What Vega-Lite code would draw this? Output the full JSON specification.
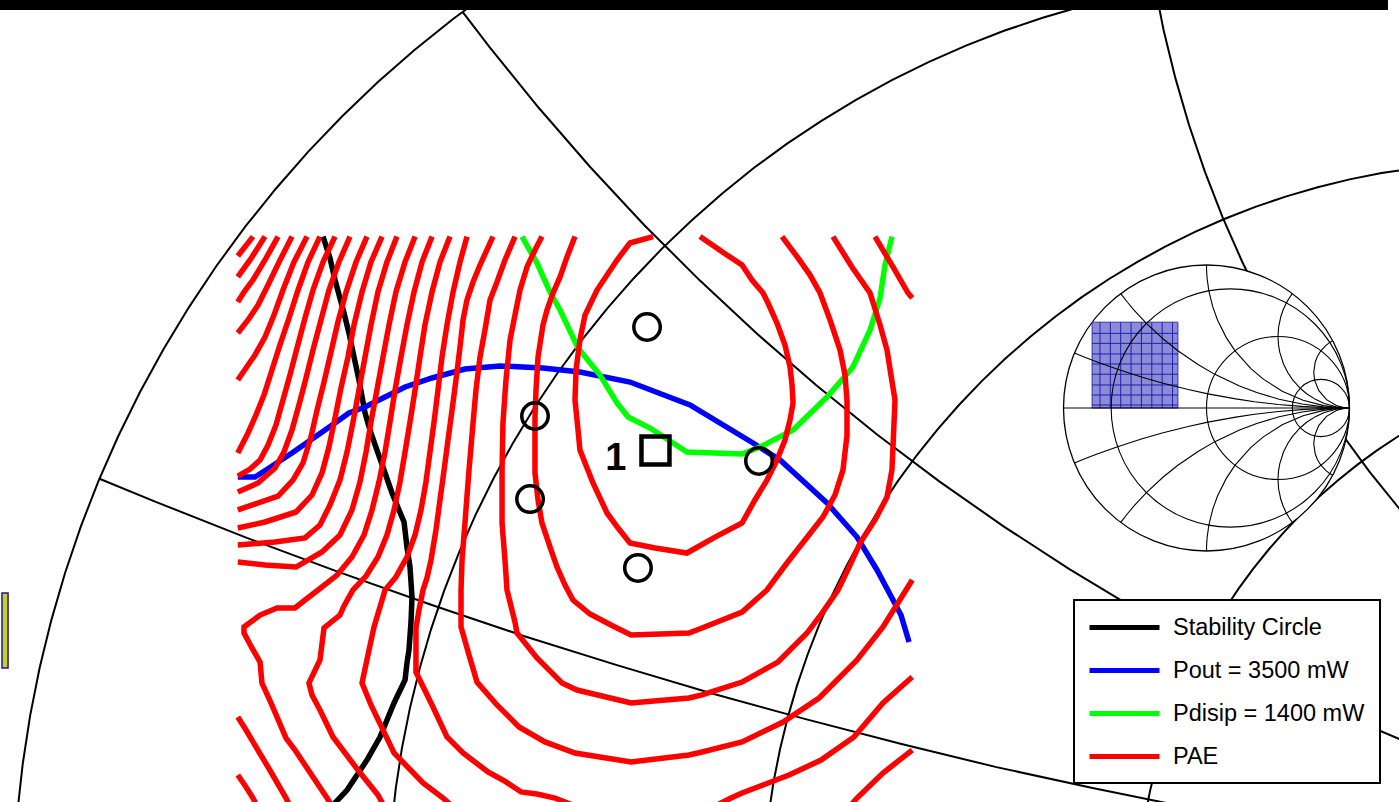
{
  "$schema": "https://vega.github.io/schema/vega-lite/v6.json",
  "width": 1399,
  "height": 802,
  "padding": 0,
  "autosize": {"type": "none"},
  "background": "white",
  "config": {"view": {"stroke": null}},
  "datasets": {
    "grid": [
      {"k":"A","r":-0.5736,"i":0.8192},{"k":"A","r":-0.6088,"i":0.7934},{"k":"A","r":-0.6428,"i":0.766},{"k":"A","r":-0.6756,"i":0.7373},{"k":"A","r":-0.7071,"i":0.7071},{"k":"A","r":-0.7373,"i":0.6756},{"k":"A","r":-0.766,"i":0.6428},{"k":"A","r":-0.7934,"i":0.6088},{"k":"A","r":-0.8192,"i":0.5736},{"k":"A","r":-0.8434,"i":0.5373},{"k":"A","r":-0.866,"i":0.5},{"k":"A","r":-0.887,"i":0.4617},{"k":"A","r":-0.9063,"i":0.4226},{"k":"A","r":-0.9239,"i":0.3827},{"k":"A","r":-0.9397,"i":0.342},{"k":"A","r":-0.9537,"i":0.3007},{"k":"A","r":-0.9659,"i":0.2588},{"k":"A","r":-0.9763,"i":0.2164},{"k":"A","r":-0.9848,"i":0.1736},{"k":"A","r":-0.9914,"i":0.1305},{"k":"A","r":-0.9962,"i":0.0872},
      {"k":"B","r":0.022,"i":0.8207},{"k":"B","r":-0.0137,"i":0.8136},{"k":"B","r":-0.049,"i":0.8049},{"k":"B","r":-0.0839,"i":0.7947},{"k":"B","r":-0.1183,"i":0.7831},{"k":"B","r":-0.1522,"i":0.7699},{"k":"B","r":-0.1855,"i":0.7553},{"k":"B","r":-0.2181,"i":0.7392},{"k":"B","r":-0.25,"i":0.7217},{"k":"B","r":-0.2811,"i":0.7028},{"k":"B","r":-0.3113,"i":0.6827},{"k":"B","r":-0.3407,"i":0.6612},{"k":"B","r":-0.369,"i":0.6383},{"k":"B","r":-0.3963,"i":0.6144},{"k":"B","r":-0.4226,"i":0.5893},{"k":"B","r":-0.4477,"i":0.563},{"k":"B","r":-0.4716,"i":0.5357},{"k":"B","r":-0.4945,"i":0.5073},{"k":"B","r":-0.516,"i":0.478},{"k":"B","r":-0.5362,"i":0.4478},{"k":"B","r":-0.555,"i":0.4167},{"k":"B","r":-0.5725,"i":0.3848},{"k":"B","r":-0.5886,"i":0.3522},{"k":"B","r":-0.6032,"i":0.3189},{"k":"B","r":-0.6164,"i":0.285},{"k":"B","r":-0.6281,"i":0.2506},{"k":"B","r":-0.6382,"i":0.2157},{"k":"B","r":-0.6469,"i":0.1803},{"k":"B","r":-0.654,"i":0.1447},{"k":"B","r":-0.6595,"i":0.1088},{"k":"B","r":-0.6635,"i":0.0727},
      {"k":"C","r":0.0086,"i":0.8695},{"k":"C","r":0.0152,"i":0.8264},{"k":"C","r":0.0237,"i":0.7836},{"k":"C","r":0.0341,"i":0.7412},{"k":"C","r":0.0463,"i":0.6993},{"k":"C","r":0.0603,"i":0.658},{"k":"C","r":0.0761,"i":0.6173},{"k":"C","r":0.0937,"i":0.5774},{"k":"C","r":0.113,"i":0.5383},{"k":"C","r":0.134,"i":0.5},{"k":"C","r":0.1566,"i":0.4627},{"k":"C","r":0.1808,"i":0.4264},{"k":"C","r":0.2066,"i":0.3912},{"k":"C","r":0.234,"i":0.3572},{"k":"C","r":0.2627,"i":0.3244},
      {"k":"D","r":0.2463,"i":0.6609},{"k":"D","r":0.2176,"i":0.6565},{"k":"D","r":0.1891,"i":0.6509},{"k":"D","r":0.1608,"i":0.6439},{"k":"D","r":0.1329,"i":0.6358},{"k":"D","r":0.1053,"i":0.6265},{"k":"D","r":0.0782,"i":0.6159},{"k":"D","r":0.0516,"i":0.6042},{"k":"D","r":0.0255,"i":0.5913},{"k":"D","r":0.0,"i":0.5773},{"k":"D","r":-0.0249,"i":0.5623},{"k":"D","r":-0.0491,"i":0.5461},{"k":"D","r":-0.0725,"i":0.5289},{"k":"D","r":-0.0952,"i":0.5107},{"k":"D","r":-0.1171,"i":0.4915},{"k":"D","r":-0.1381,"i":0.4714},{"k":"D","r":-0.1582,"i":0.4504},{"k":"D","r":-0.1774,"i":0.4285},{"k":"D","r":-0.1956,"i":0.4059},{"k":"D","r":-0.2128,"i":0.3824},{"k":"D","r":-0.2289,"i":0.3582},{"k":"D","r":-0.244,"i":0.3333},{"k":"D","r":-0.258,"i":0.3078},{"k":"D","r":-0.2709,"i":0.2817},{"k":"D","r":-0.2826,"i":0.2551},{"k":"D","r":-0.2931,"i":0.228},{"k":"D","r":-0.3025,"i":0.2005},{"k":"D","r":-0.3106,"i":0.1725},{"k":"D","r":-0.3175,"i":0.1443},{"k":"D","r":-0.3232,"i":0.1157},{"k":"D","r":-0.3276,"i":0.087},
      {"k":"E","r":0.25,"i":0.433},{"k":"E","r":0.2314,"i":0.4217},{"k":"E","r":0.2132,"i":0.4096},{"k":"E","r":0.1956,"i":0.3967},{"k":"E","r":0.1786,"i":0.383},{"k":"E","r":0.1622,"i":0.3687},{"k":"E","r":0.1464,"i":0.3536},{"k":"E","r":0.1314,"i":0.3378},{"k":"E","r":0.117,"i":0.3214},{"k":"E","r":0.1033,"i":0.3044},{"k":"E","r":0.0904,"i":0.2868},{"k":"E","r":0.0783,"i":0.2687},{"k":"E","r":0.067,"i":0.25},{"k":"E","r":0.0565,"i":0.2309},{"k":"E","r":0.0469,"i":0.2113},{"k":"E","r":0.0381,"i":0.1914},{"k":"E","r":0.0302,"i":0.171},{"k":"E","r":0.0232,"i":0.1504},{"k":"E","r":0.0171,"i":0.1294},{"k":"E","r":0.0119,"i":0.1082},{"k":"E","r":0.0076,"i":0.0868},
      {"k":"L1","r":-0.6,"i":0.8},{"k":"L1","r":-0.576,"i":0.7686},{"k":"L1","r":-0.5321,"i":0.7144},{"k":"L1","r":-0.4863,"i":0.6617},{"k":"L1","r":-0.4387,"i":0.6106},{"k":"L1","r":-0.3893,"i":0.5613},{"k":"L1","r":-0.3383,"i":0.5138},{"k":"L1","r":-0.2856,"i":0.4679},{"k":"L1","r":-0.2313,"i":0.4239},{"k":"L1","r":-0.1756,"i":0.382},{"k":"L1","r":-0.1184,"i":0.342},{"k":"L1","r":-0.0598,"i":0.304},{"k":"L1","r":0.0,"i":0.2679},{"k":"L1","r":0.061,"i":0.2341},{"k":"L1","r":0.1232,"i":0.2024},{"k":"L1","r":0.1866,"i":0.1729},{"k":"L1","r":0.2508,"i":0.1457},
      {"k":"L2","r":-0.9231,"i":0.3846},{"k":"L2","r":-0.873,"i":0.364},{"k":"L2","r":-0.792,"i":0.332},{"k":"L2","r":-0.71,"i":0.3015},{"k":"L2","r":-0.628,"i":0.2725},{"k":"L2","r":-0.545,"i":0.2445},{"k":"L2","r":-0.462,"i":0.2185},{"k":"L2","r":-0.378,"i":0.1935},{"k":"L2","r":-0.294,"i":0.1705},{"k":"L2","r":-0.2095,"i":0.1485},{"k":"L2","r":-0.125,"i":0.128},{"k":"L2","r":-0.0395,"i":0.1095},{"k":"L2","r":0.046,"i":0.092},{"k":"L2","r":0.132,"i":0.076}
    ],
    "stability": [
      {"r":-0.7242,"i":0.6},{"r":-0.718,"i":0.581},{"r":-0.7135,"i":0.5614},{"r":-0.7055,"i":0.532},{"r":-0.7011,"i":0.5142},{"r":-0.6966,"i":0.4929},{"r":-0.6922,"i":0.4724},{"r":-0.6868,"i":0.4431},{"r":-0.6824,"i":0.4279},{"r":-0.6762,"i":0.4101},{"r":-0.669,"i":0.3897},{"r":-0.6628,"i":0.3719},{"r":-0.6566,"i":0.3568},{"r":-0.6521,"i":0.3461},{"r":-0.6495,"i":0.3238},{"r":-0.6468,"i":0.306},{"r":-0.645,"i":0.2794},{"r":-0.6459,"i":0.2571},{"r":-0.6477,"i":0.2322},{"r":-0.6495,"i":0.2206},{"r":-0.6512,"i":0.2055},{"r":-0.661,"i":0.1851},{"r":-0.6735,"i":0.1548},{"r":-0.6851,"i":0.1343},{"r":-0.7028,"i":0.1076},{"r":-0.7153,"i":0.0943},{"r":-0.7224,"i":0.0881}
    ],
    "pout": [
      {"r":-0.8,"i":0.3861},{"r":-0.7847,"i":0.3861},{"r":-0.7722,"i":0.3941},{"r":-0.7518,"i":0.4075},{"r":-0.7313,"i":0.4217},{"r":-0.7135,"i":0.4342},{"r":-0.7011,"i":0.4431},{"r":-0.6868,"i":0.4484},{"r":-0.669,"i":0.4573},{"r":-0.6512,"i":0.4662},{"r":-0.6272,"i":0.4742},{"r":-0.5979,"i":0.4822},{"r":-0.5667,"i":0.4849},{"r":-0.5285,"i":0.4831},{"r":-0.4956,"i":0.4795},{"r":-0.4511,"i":0.4706},{"r":-0.3977,"i":0.4502},{"r":-0.3416,"i":0.4164},{"r":-0.3176,"i":0.4012},{"r":-0.2758,"i":0.363},{"r":-0.2491,"i":0.3327},{"r":-0.2313,"i":0.3034},{"r":-0.218,"i":0.2785},{"r":-0.21,"i":0.2633},{"r":-0.2028,"i":0.2393}
    ],
    "pdisip": [
      {"r":-0.5472,"i":0.6},{"r":-0.5338,"i":0.5765},{"r":-0.5222,"i":0.5507},{"r":-0.5133,"i":0.5347},{"r":-0.4973,"i":0.5009},{"r":-0.4778,"i":0.4769},{"r":-0.4626,"i":0.452},{"r":-0.4528,"i":0.4395},{"r":-0.4333,"i":0.4297},{"r":-0.4128,"i":0.4164},{"r":-0.4004,"i":0.4084},{"r":-0.3514,"i":0.4066},{"r":-0.3354,"i":0.4128},{"r":-0.306,"i":0.4279},{"r":-0.2758,"i":0.4573},{"r":-0.2527,"i":0.484},{"r":-0.2375,"i":0.5169},{"r":-0.2286,"i":0.5454},{"r":-0.2242,"i":0.5747},{"r":-0.218,"i":0.6}
    ],
    "pae": [
      {"c":"a","r":-0.7865,"i":0.6},{"c":"a","r":-0.8,"i":0.5827},
      {"c":"b","r":-0.7758,"i":0.6},{"c":"b","r":-0.7891,"i":0.5792},{"c":"b","r":-0.8,"i":0.5641},
      {"c":"c","r":-0.7642,"i":0.6},{"c":"c","r":-0.7758,"i":0.5792},{"c":"c","r":-0.7865,"i":0.5614},{"c":"c","r":-0.7945,"i":0.5507},{"c":"c","r":-0.8,"i":0.5418},
      {"c":"d","r":-0.7518,"i":0.6},{"c":"d","r":-0.7633,"i":0.5774},{"c":"d","r":-0.7731,"i":0.5569},{"c":"d","r":-0.782,"i":0.5391},{"c":"d","r":-0.7909,"i":0.5258},{"c":"d","r":-0.8,"i":0.5142},
      {"c":"e","r":-0.7384,"i":0.6},{"c":"e","r":-0.75,"i":0.5774},{"c":"e","r":-0.7598,"i":0.5525},{"c":"e","r":-0.7678,"i":0.5302},{"c":"e","r":-0.7758,"i":0.5107},{"c":"e","r":-0.7847,"i":0.4947},{"c":"e","r":-0.7927,"i":0.4831},{"c":"e","r":-0.8,"i":0.4724},
      {"c":"f","r":-0.7269,"i":0.6},{"c":"f","r":-0.7375,"i":0.5774},{"c":"f","r":-0.7464,"i":0.5525},{"c":"f","r":-0.7544,"i":0.5276},{"c":"f","r":-0.7625,"i":0.5036},{"c":"f","r":-0.7696,"i":0.4813},{"c":"f","r":-0.7767,"i":0.4591},{"c":"f","r":-0.7838,"i":0.4413},{"c":"f","r":-0.7909,"i":0.4253},{"c":"f","r":-0.8,"i":0.4075},
      {"c":"g","r":-0.7135,"i":0.6},{"c":"g","r":-0.7242,"i":0.5774},{"c":"g","r":-0.7331,"i":0.5525},{"c":"g","r":-0.7402,"i":0.5276},{"c":"g","r":-0.7473,"i":0.5009},{"c":"g","r":-0.7536,"i":0.4769},{"c":"g","r":-0.7598,"i":0.4546},{"c":"g","r":-0.766,"i":0.4324},{"c":"g","r":-0.7731,"i":0.4146},{"c":"g","r":-0.7802,"i":0.4012},{"c":"g","r":-0.7891,"i":0.3932},{"c":"g","r":-0.8,"i":0.387},
      {"c":"h","r":-0.7002,"i":0.6},{"c":"h","r":-0.71,"i":0.5774},{"c":"h","r":-0.7189,"i":0.5525},{"c":"h","r":-0.726,"i":0.5258},{"c":"h","r":-0.7331,"i":0.4991},{"c":"h","r":-0.7393,"i":0.4742},{"c":"h","r":-0.7456,"i":0.4502},{"c":"h","r":-0.7518,"i":0.4279},{"c":"h","r":-0.7589,"i":0.4084},{"c":"h","r":-0.7669,"i":0.3941},{"c":"h","r":-0.782,"i":0.3808},{"c":"h","r":-0.8,"i":0.3728},
      {"c":"i","r":-0.6851,"i":0.6},{"c":"i","r":-0.6948,"i":0.5774},{"c":"i","r":-0.7037,"i":0.5507},{"c":"i","r":-0.7109,"i":0.524},{"c":"i","r":-0.7171,"i":0.4973},{"c":"i","r":-0.7233,"i":0.4706},{"c":"i","r":-0.7295,"i":0.4457},{"c":"i","r":-0.7349,"i":0.4217},{"c":"i","r":-0.742,"i":0.3986},{"c":"i","r":-0.7509,"i":0.3834},{"c":"i","r":-0.7642,"i":0.3692},{"c":"i","r":-0.8,"i":0.3568},
      {"c":"j","r":-0.6717,"i":0.6},{"c":"j","r":-0.6815,"i":0.5774},{"c":"j","r":-0.6895,"i":0.5507},{"c":"j","r":-0.6966,"i":0.5214},{"c":"j","r":-0.702,"i":0.4929},{"c":"j","r":-0.7082,"i":0.4653},{"c":"j","r":-0.7135,"i":0.4386},{"c":"j","r":-0.7189,"i":0.4128},{"c":"j","r":-0.7251,"i":0.3897},{"c":"j","r":-0.734,"i":0.3701},{"c":"j","r":-0.7482,"i":0.355},{"c":"j","r":-0.7758,"i":0.3461},{"c":"j","r":-0.8,"i":0.3407},
      {"c":"k","r":-0.6584,"i":0.6},{"c":"k","r":-0.6673,"i":0.5774},{"c":"k","r":-0.6753,"i":0.5507},{"c":"k","r":-0.6815,"i":0.5214},{"c":"k","r":-0.6868,"i":0.4929},{"c":"k","r":-0.6922,"i":0.4635},{"c":"k","r":-0.6975,"i":0.4351},{"c":"k","r":-0.7028,"i":0.4084},{"c":"k","r":-0.7091,"i":0.3834},{"c":"k","r":-0.718,"i":0.3612},{"c":"k","r":-0.7269,"i":0.3434},{"c":"k","r":-0.7402,"i":0.3319},{"c":"k","r":-0.7669,"i":0.3283},{"c":"k","r":-0.8,"i":0.3256},
      {"c":"l","r":-0.6423,"i":0.6},{"c":"l","r":-0.6512,"i":0.5774},{"c":"l","r":-0.6593,"i":0.5507},{"c":"l","r":-0.6655,"i":0.5214},{"c":"l","r":-0.6708,"i":0.4929},{"c":"l","r":-0.6762,"i":0.4635},{"c":"l","r":-0.6815,"i":0.4351},{"c":"l","r":-0.6859,"i":0.4084},{"c":"l","r":-0.6913,"i":0.3817},{"c":"l","r":-0.6984,"i":0.3568},{"c":"l","r":-0.7091,"i":0.3345},{"c":"l","r":-0.7251,"i":0.3194},{"c":"l","r":-0.7482,"i":0.306},{"c":"l","r":-0.7758,"i":0.3078},{"c":"l","r":-0.8,"i":0.3105},
      {"c":"m","r":-0.6272,"i":0.6},{"c":"m","r":-0.6361,"i":0.5774},{"c":"m","r":-0.6432,"i":0.5507},{"c":"m","r":-0.6495,"i":0.5214},{"c":"m","r":-0.6548,"i":0.4929},{"c":"m","r":-0.6601,"i":0.4635},{"c":"m","r":-0.6646,"i":0.4351},{"c":"m","r":-0.669,"i":0.4084},{"c":"m","r":-0.6744,"i":0.3817},{"c":"m","r":-0.6806,"i":0.3568},{"c":"m","r":-0.6877,"i":0.3345},{"c":"m","r":-0.6984,"i":0.3149},{"c":"m","r":-0.7117,"i":0.2989},{"c":"m","r":-0.7286,"i":0.2856},{"c":"m","r":-0.7402,"i":0.2767},{"c":"m","r":-0.7491,"i":0.2696},{"c":"m","r":-0.7651,"i":0.2696},{"c":"m","r":-0.7802,"i":0.2633},{"c":"m","r":-0.7945,"i":0.2527},{"c":"m","r":-0.7945,"i":0.2473},{"c":"m","r":-0.7874,"i":0.234},{"c":"m","r":-0.7802,"i":0.2215},{"c":"m","r":-0.7785,"i":0.2028},{"c":"m","r":-0.7705,"i":0.1851},{"c":"m","r":-0.7571,"i":0.1539},{"c":"m","r":-0.7491,"i":0.1432},{"c":"m","r":-0.7331,"i":0.1192},{"c":"m","r":-0.7206,"i":0.1005},{"c":"m","r":-0.7162,"i":0.0934},
      {"c":"n","r":-0.6112,"i":0.6},{"c":"n","r":-0.6201,"i":0.5774},{"c":"n","r":-0.6272,"i":0.5507},{"c":"n","r":-0.6335,"i":0.5214},{"c":"n","r":-0.6379,"i":0.4929},{"c":"n","r":-0.6423,"i":0.4635},{"c":"n","r":-0.6468,"i":0.4351},{"c":"n","r":-0.6512,"i":0.4084},{"c":"n","r":-0.6557,"i":0.3817},{"c":"n","r":-0.661,"i":0.3568},{"c":"n","r":-0.6673,"i":0.3345},{"c":"n","r":-0.6753,"i":0.3149},{"c":"n","r":-0.6859,"i":0.298},{"c":"n","r":-0.6975,"i":0.2856},{"c":"n","r":-0.7055,"i":0.2714},{"c":"n","r":-0.7091,"i":0.2633},{"c":"n","r":-0.7233,"i":0.2518},{"c":"n","r":-0.7269,"i":0.2233},{"c":"n","r":-0.7367,"i":0.2028},{"c":"n","r":-0.734,"i":0.1922},{"c":"n","r":-0.7269,"i":0.1788},{"c":"n","r":-0.7153,"i":0.1548},{"c":"n","r":-0.6931,"i":0.1254},{"c":"n","r":-0.6753,"i":0.1032},{"c":"n","r":-0.6699,"i":0.0934},
      {"c":"o","r":-0.5961,"i":0.6},{"c":"o","r":-0.6023,"i":0.5774},{"c":"o","r":-0.6085,"i":0.5507},{"c":"o","r":-0.6139,"i":0.5214},{"c":"o","r":-0.6183,"i":0.4929},{"c":"o","r":-0.6219,"i":0.4635},{"c":"o","r":-0.6254,"i":0.4351},{"c":"o","r":-0.629,"i":0.4084},{"c":"o","r":-0.6326,"i":0.3817},{"c":"o","r":-0.637,"i":0.3568},{"c":"o","r":-0.6423,"i":0.3345},{"c":"o","r":-0.6495,"i":0.3149},{"c":"o","r":-0.6593,"i":0.2972},{"c":"o","r":-0.669,"i":0.2856},{"c":"o","r":-0.6788,"i":0.2527},{"c":"o","r":-0.6842,"i":0.2278},{"c":"o","r":-0.6895,"i":0.2028},{"c":"o","r":-0.6815,"i":0.1833},{"c":"o","r":-0.661,"i":0.1406},{"c":"o","r":-0.6352,"i":0.1139},{"c":"o","r":-0.6174,"i":0.1005},{"c":"o","r":-0.6094,"i":0.0934},
      {"c":"p","r":-0.573,"i":0.6},{"c":"p","r":-0.5845,"i":0.5747},{"c":"p","r":-0.5907,"i":0.5596},{"c":"p","r":-0.5961,"i":0.5436},{"c":"p","r":-0.5996,"i":0.5258},{"c":"p","r":-0.6023,"i":0.5018},{"c":"p","r":-0.6059,"i":0.4724},{"c":"p","r":-0.6094,"i":0.4457},{"c":"p","r":-0.613,"i":0.419},{"c":"p","r":-0.6165,"i":0.3923},{"c":"p","r":-0.6201,"i":0.3657},{"c":"p","r":-0.6237,"i":0.339},{"c":"p","r":-0.6281,"i":0.3123},{"c":"p","r":-0.6317,"i":0.2963},{"c":"p","r":-0.6352,"i":0.2856},{"c":"p","r":-0.6388,"i":0.2678},{"c":"p","r":-0.6415,"i":0.2518},{"c":"p","r":-0.6415,"i":0.2126},{"c":"p","r":-0.6272,"i":0.1833},{"c":"p","r":-0.6139,"i":0.1548},{"c":"p","r":-0.5996,"i":0.1406},{"c":"p","r":-0.5774,"i":0.1237},{"c":"p","r":-0.5614,"i":0.1148},{"c":"p","r":-0.548,"i":0.1059},{"c":"p","r":-0.5338,"i":0.1041},{"c":"p","r":-0.5178,"i":0.1005},{"c":"p","r":-0.5,"i":0.0934},
      {"c":"q","r":-0.5534,"i":0.6},{"c":"q","r":-0.5623,"i":0.5792},{"c":"q","r":-0.5694,"i":0.5596},{"c":"q","r":-0.5756,"i":0.5436},{"c":"q","r":-0.5801,"i":0.5169},{"c":"q","r":-0.5845,"i":0.4929},{"c":"q","r":-0.5881,"i":0.4635},{"c":"q","r":-0.5907,"i":0.4342},{"c":"q","r":-0.5943,"i":0.3923},{"c":"q","r":-0.5979,"i":0.3452},{"c":"q","r":-0.6005,"i":0.3123},{"c":"q","r":-0.6014,"i":0.2856},{"c":"q","r":-0.6014,"i":0.2527},{"c":"q","r":-0.5943,"i":0.2278},{"c":"q","r":-0.5872,"i":0.2037},{"c":"q","r":-0.5694,"i":0.1833},{"c":"q","r":-0.5498,"i":0.1637},{"c":"q","r":-0.5267,"i":0.1504},{"c":"q","r":-0.5,"i":0.1406},{"c":"q","r":-0.4502,"i":0.1326},{"c":"q","r":-0.3986,"i":0.1388},{"c":"q","r":-0.387,"i":0.1415},{"c":"q","r":-0.3514,"i":0.1504},{"c":"q","r":-0.3149,"i":0.1681},{"c":"q","r":-0.2829,"i":0.1895},{"c":"q","r":-0.2491,"i":0.2233},{"c":"q","r":-0.226,"i":0.2527},{"c":"q","r":-0.2055,"i":0.2856},{"c":"q","r":-0.2,"i":0.2945},
      {"c":"s","r":-0.5294,"i":0.6},{"c":"s","r":-0.5356,"i":0.5881},{"c":"s","r":-0.5427,"i":0.573},{"c":"s","r":-0.5489,"i":0.5525},{"c":"s","r":-0.5534,"i":0.5302},{"c":"s","r":-0.5578,"i":0.508},{"c":"s","r":-0.5614,"i":0.4724},{"c":"s","r":-0.5641,"i":0.4342},{"c":"s","r":-0.5649,"i":0.3923},{"c":"s","r":-0.5649,"i":0.3452},{"c":"s","r":-0.5623,"i":0.3123},{"c":"s","r":-0.5605,"i":0.2856},{"c":"s","r":-0.5534,"i":0.2571},{"c":"s","r":-0.5516,"i":0.2473},{"c":"s","r":-0.5338,"i":0.2251},{"c":"s","r":-0.5116,"i":0.2028},{"c":"s","r":-0.4982,"i":0.1966},{"c":"s","r":-0.4502,"i":0.1851},{"c":"s","r":-0.3986,"i":0.1895},{"c":"s","r":-0.387,"i":0.1922},{"c":"s","r":-0.3514,"i":0.2037},{"c":"s","r":-0.3194,"i":0.2215},{"c":"s","r":-0.2936,"i":0.2473},{"c":"s","r":-0.2802,"i":0.2651},{"c":"s","r":-0.266,"i":0.2856},{"c":"s","r":-0.2553,"i":0.3078},{"c":"s","r":-0.2464,"i":0.3274},{"c":"s","r":-0.2331,"i":0.3479},{"c":"s","r":-0.2224,"i":0.3683},{"c":"s","r":-0.218,"i":0.3923},{"c":"s","r":-0.2171,"i":0.4128},{"c":"s","r":-0.2153,"i":0.4546},{"c":"s","r":-0.2189,"i":0.4769},{"c":"s","r":-0.2224,"i":0.4991},{"c":"s","r":-0.2286,"i":0.5214},{"c":"s","r":-0.2375,"i":0.5498},{"c":"s","r":-0.2536,"i":0.573},{"c":"s","r":-0.2705,"i":0.6},
      {"c":"t","r":-0.5,"i":0.6},{"c":"t","r":-0.5071,"i":0.5819},{"c":"t","r":-0.5133,"i":0.5641},{"c":"t","r":-0.5196,"i":0.5498},{"c":"t","r":-0.5249,"i":0.5347},{"c":"t","r":-0.5285,"i":0.5214},{"c":"t","r":-0.5329,"i":0.4929},{"c":"t","r":-0.5347,"i":0.4635},{"c":"t","r":-0.5356,"i":0.4395},{"c":"t","r":-0.5356,"i":0.3897},{"c":"t","r":-0.5329,"i":0.3657},{"c":"t","r":-0.5294,"i":0.3452},{"c":"t","r":-0.5222,"i":0.3238},{"c":"t","r":-0.516,"i":0.306},{"c":"t","r":-0.5089,"i":0.29},{"c":"t","r":-0.5018,"i":0.2767},{"c":"t","r":-0.4867,"i":0.2642},{"c":"t","r":-0.468,"i":0.2544},{"c":"t","r":-0.4502,"i":0.2456},{"c":"t","r":-0.3986,"i":0.2473},{"c":"t","r":-0.387,"i":0.2518},{"c":"t","r":-0.3514,"i":0.266},{"c":"t","r":-0.3292,"i":0.2856},{"c":"t","r":-0.3114,"i":0.3096},{"c":"t","r":-0.2954,"i":0.3301},{"c":"t","r":-0.2794,"i":0.3505},{"c":"t","r":-0.2687,"i":0.3701},{"c":"t","r":-0.2616,"i":0.3923},{"c":"t","r":-0.258,"i":0.4235},{"c":"t","r":-0.258,"i":0.4546},{"c":"t","r":-0.2598,"i":0.4769},{"c":"t","r":-0.2642,"i":0.4991},{"c":"t","r":-0.2731,"i":0.5258},{"c":"t","r":-0.282,"i":0.5498},{"c":"t","r":-0.2909,"i":0.5658},{"c":"t","r":-0.3016,"i":0.581},{"c":"t","r":-0.3158,"i":0.6},
      {"c":"u","r":-0.4306,"i":0.6},{"c":"u","r":-0.4511,"i":0.5943},{"c":"u","r":-0.4626,"i":0.5792},{"c":"u","r":-0.4804,"i":0.5525},{"c":"u","r":-0.4911,"i":0.5302},{"c":"u","r":-0.4956,"i":0.508},{"c":"u","r":-0.4991,"i":0.4813},{"c":"u","r":-0.5,"i":0.4546},{"c":"u","r":-0.4973,"i":0.4279},{"c":"u","r":-0.4956,"i":0.4101},{"c":"u","r":-0.484,"i":0.3808},{"c":"u","r":-0.4715,"i":0.3541},{"c":"u","r":-0.4617,"i":0.3407},{"c":"u","r":-0.4511,"i":0.3274},{"c":"u","r":-0.4288,"i":0.323},{"c":"u","r":-0.4004,"i":0.3185},{"c":"u","r":-0.3754,"i":0.3327},{"c":"u","r":-0.3514,"i":0.3452},{"c":"u","r":-0.3399,"i":0.3657},{"c":"u","r":-0.3292,"i":0.3834},{"c":"u","r":-0.3203,"i":0.4012},{"c":"u","r":-0.3132,"i":0.419},{"c":"u","r":-0.3087,"i":0.4368},{"c":"u","r":-0.306,"i":0.452},{"c":"u","r":-0.3069,"i":0.468},{"c":"u","r":-0.3087,"i":0.484},{"c":"u","r":-0.3132,"i":0.5036},{"c":"u","r":-0.3203,"i":0.5231},{"c":"u","r":-0.3283,"i":0.5409},{"c":"u","r":-0.3327,"i":0.5498},{"c":"u","r":-0.3425,"i":0.5614},{"c":"u","r":-0.3514,"i":0.5747},{"c":"u","r":-0.3648,"i":0.5836},{"c":"u","r":-0.3888,"i":0.6},
      {"c":"v","r":-0.2331,"i":0.6},{"c":"v","r":-0.2171,"i":0.573},{"c":"v","r":-0.2037,"i":0.5498},{"c":"v","r":-0.2,"i":0.5454},
      {"c":"w","r":-0.2,"i":0.2082},{"c":"w","r":-0.226,"i":0.1851},{"c":"w","r":-0.2518,"i":0.1548},{"c":"w","r":-0.2811,"i":0.1343},{"c":"w","r":-0.3096,"i":0.121},{"c":"w","r":-0.3514,"i":0.105},{"c":"w","r":-0.3612,"i":0.1005},{"c":"w","r":-0.3754,"i":0.0934},
      {"c":"x","r":-0.2,"i":0.1432},{"c":"x","r":-0.226,"i":0.1228},{"c":"x","r":-0.2491,"i":0.1005},{"c":"x","r":-0.2553,"i":0.0934},
      {"c":"y","r":-0.8,"i":0.1726},{"c":"y","r":-0.7927,"i":0.161},{"c":"y","r":-0.7865,"i":0.1504},{"c":"y","r":-0.7731,"i":0.1281},{"c":"y","r":-0.7571,"i":0.1005},{"c":"y","r":-0.7536,"i":0.0934},
      {"c":"z","r":-0.8,"i":0.121},{"c":"z","r":-0.7927,"i":0.1103},{"c":"z","r":-0.7865,"i":0.1005},{"c":"z","r":-0.7829,"i":0.0934}
    ],
    "markers": [
      {"m":"circle","r":-0.4359,"i":0.5196},
      {"m":"circle","r":-0.5356,"i":0.4404},
      {"m":"circle","r":-0.54,"i":0.3665},
      {"m":"circle","r":-0.444,"i":0.3052},
      {"m":"circle","r":-0.3363,"i":0.4004},
      {"m":"square","r":-0.4284,"i":0.4097,"label":"1"}
    ],
    "insetCircles": [
      {"cr":0,"rad":1},{"cr":0.1667,"rad":0.8333},{"cr":0.5,"rad":0.5},{"cr":0.8,"rad":0.2}
    ],
    "region": [{"r0":-0.8,"r1":-0.2,"i0":0,"i1":0.6}],
    "regionCols": [{"v":-0.745},{"v":-0.6725},{"v":-0.6},{"v":-0.5275},{"v":-0.455},{"v":-0.3825},{"v":-0.31},{"v":-0.2375}],
    "regionRows": [{"h":0.021},{"h":0.091},{"h":0.161},{"h":0.236},{"h":0.308},{"h":0.378},{"h":0.452},{"h":0.522}],
    "insetArcs": [
      {"k":"axis","gr":-1,"gi":0},{"k":"axis","gr":1,"gi":0},
      {"k":"p02","gr":-0.9231,"gi":0.3846},{"k":"p02","gr":-0.8381,"gi":0.3501},{"k":"p02","gr":-0.76,"gi":0.32},{"k":"p02","gr":-0.6216,"gi":0.2703},{"k":"p02","gr":-0.4497,"gi":0.2148},{"k":"p02","gr":-0.31,"gi":0.1747},{"k":"p02","gr":-0.1281,"gi":0.1289},{"k":"p02","gr":0.0099,"gi":0.099},{"k":"p02","gr":0.2051,"gi":0.0636},{"k":"p02","gr":0.3363,"gi":0.0442},{"k":"p02","gr":0.5012,"gi":0.0249},{"k":"p02","gr":0.667,"gi":0.0111},{"k":"p02","gr":0.8182,"gi":0.0033},{"k":"p02","gr":1,"gi":0},
      {"k":"n02","gr":-0.9231,"gi":-0.3846},{"k":"n02","gr":-0.8381,"gi":-0.3501},{"k":"n02","gr":-0.76,"gi":-0.32},{"k":"n02","gr":-0.6216,"gi":-0.2703},{"k":"n02","gr":-0.4497,"gi":-0.2148},{"k":"n02","gr":-0.31,"gi":-0.1747},{"k":"n02","gr":-0.1281,"gi":-0.1289},{"k":"n02","gr":0.0099,"gi":-0.099},{"k":"n02","gr":0.2051,"gi":-0.0636},{"k":"n02","gr":0.3363,"gi":-0.0442},{"k":"n02","gr":0.5012,"gi":-0.0249},{"k":"n02","gr":0.667,"gi":-0.0111},{"k":"n02","gr":0.8182,"gi":-0.0033},{"k":"n02","gr":1,"gi":0},
      {"k":"p05","gr":-0.6,"gi":0.8},{"k":"p05","gr":-0.5527,"gi":0.7394},{"k":"p05","gr":-0.5068,"gi":0.6849},{"k":"p05","gr":-0.4201,"gi":0.5917},{"k":"p05","gr":-0.3028,"gi":0.4825},{"k":"p05","gr":-0.2,"gi":0.4},{"k":"p05","gr":-0.0566,"gi":0.3019},{"k":"p05","gr":0.0588,"gi":0.2353},{"k":"p05","gr":0.2308,"gi":0.1538},{"k":"p05","gr":0.3514,"gi":0.1081},{"k":"p05","gr":0.5077,"gi":0.0615},{"k":"p05","gr":0.669,"gi":0.0276},{"k":"p05","gr":0.8186,"gi":0.0082},{"k":"p05","gr":1,"gi":0},
      {"k":"n05","gr":-0.6,"gi":-0.8},{"k":"n05","gr":-0.5527,"gi":-0.7394},{"k":"n05","gr":-0.5068,"gi":-0.6849},{"k":"n05","gr":-0.4201,"gi":-0.5917},{"k":"n05","gr":-0.3028,"gi":-0.4825},{"k":"n05","gr":-0.2,"gi":-0.4},{"k":"n05","gr":-0.0566,"gi":-0.3019},{"k":"n05","gr":0.0588,"gi":-0.2353},{"k":"n05","gr":0.2308,"gi":-0.1538},{"k":"n05","gr":0.3514,"gi":-0.1081},{"k":"n05","gr":0.5077,"gi":-0.0615},{"k":"n05","gr":0.669,"gi":-0.0276},{"k":"n05","gr":0.8186,"gi":-0.0082},{"k":"n05","gr":1,"gi":0},
      {"k":"p1","gr":0,"gi":1},{"k":"p1","gr":0.0012,"gi":0.9512},{"k":"p1","gr":0.0045,"gi":0.905},{"k":"p1","gr":0.0164,"gi":0.8197},{"k":"p1","gr":0.0434,"gi":0.7086},{"k":"p1","gr":0.0769,"gi":0.6154},{"k":"p1","gr":0.1385,"gi":0.4923},{"k":"p1","gr":0.2,"gi":0.4},{"k":"p1","gr":0.3103,"gi":0.2759},{"k":"p1","gr":0.4,"gi":0.2},{"k":"p1","gr":0.5294,"gi":0.1176},{"k":"p1","gr":0.6757,"gi":0.0541},{"k":"p1","gr":0.8197,"gi":0.0164},{"k":"p1","gr":0.905,"gi":0.0045},{"k":"p1","gr":1,"gi":0},
      {"k":"n1","gr":0,"gi":-1},{"k":"n1","gr":0.0012,"gi":-0.9512},{"k":"n1","gr":0.0045,"gi":-0.905},{"k":"n1","gr":0.0164,"gi":-0.8197},{"k":"n1","gr":0.0434,"gi":-0.7086},{"k":"n1","gr":0.0769,"gi":-0.6154},{"k":"n1","gr":0.1385,"gi":-0.4923},{"k":"n1","gr":0.2,"gi":-0.4},{"k":"n1","gr":0.3103,"gi":-0.2759},{"k":"n1","gr":0.4,"gi":-0.2},{"k":"n1","gr":0.5294,"gi":-0.1176},{"k":"n1","gr":0.6757,"gi":-0.0541},{"k":"n1","gr":0.8197,"gi":-0.0164},{"k":"n1","gr":0.905,"gi":-0.0045},{"k":"n1","gr":1,"gi":0},
      {"k":"p2","gr":0.6,"gi":0.8},{"k":"p2","gr":0.5777,"gi":0.7678},{"k":"p2","gr":0.5588,"gi":0.7353},{"k":"p2","gr":0.5363,"gi":0.687},{"k":"p2","gr":0.52,"gi":0.64},{"k":"p2","gr":0.5044,"gi":0.5664},{"k":"p2","gr":0.5,"gi":0.5},{"k":"p2","gr":0.5034,"gi":0.4414},{"k":"p2","gr":0.5122,"gi":0.3902},{"k":"p2","gr":0.5385,"gi":0.3077},{"k":"p2","gr":0.5692,"gi":0.2462},{"k":"p2","gr":0.6,"gi":0.2},{"k":"p2","gr":0.6552,"gi":0.1379},{"k":"p2","gr":0.7,"gi":0.1},{"k":"p2","gr":0.7647,"gi":0.0588},{"k":"p2","gr":0.824,"gi":0.032},{"k":"p2","gr":0.9056,"gi":0.009},{"k":"p2","gr":1,"gi":0},
      {"k":"n2","gr":0.6,"gi":-0.8},{"k":"n2","gr":0.5777,"gi":-0.7678},{"k":"n2","gr":0.5588,"gi":-0.7353},{"k":"n2","gr":0.5363,"gi":-0.687},{"k":"n2","gr":0.52,"gi":-0.64},{"k":"n2","gr":0.5044,"gi":-0.5664},{"k":"n2","gr":0.5,"gi":-0.5},{"k":"n2","gr":0.5034,"gi":-0.4414},{"k":"n2","gr":0.5122,"gi":-0.3902},{"k":"n2","gr":0.5385,"gi":-0.3077},{"k":"n2","gr":0.5692,"gi":-0.2462},{"k":"n2","gr":0.6,"gi":-0.2},{"k":"n2","gr":0.6552,"gi":-0.1379},{"k":"n2","gr":0.7,"gi":-0.1},{"k":"n2","gr":0.7647,"gi":-0.0588},{"k":"n2","gr":0.824,"gi":-0.032},{"k":"n2","gr":0.9056,"gi":-0.009},{"k":"n2","gr":1,"gi":0},
      {"k":"p4","gr":0.8824,"gi":0.4706},{"k":"p4","gr":0.8624,"gi":0.4587},{"k":"p4","gr":0.8356,"gi":0.4384},{"k":"p4","gr":0.8,"gi":0.4},{"k":"p4","gr":0.7753,"gi":0.3596},{"k":"p4","gr":0.76,"gi":0.32},{"k":"p4","gr":0.75,"gi":0.25},{"k":"p4","gr":0.7561,"gi":0.1951},{"k":"p4","gr":0.7846,"gi":0.1231},{"k":"p4","gr":0.8394,"gi":0.0584},{"k":"p4","gr":0.9081,"gi":0.0175},{"k":"p4","gr":0.9517,"gi":0.0047},{"k":"p4","gr":1,"gi":0},
      {"k":"n4","gr":0.8824,"gi":-0.4706},{"k":"n4","gr":0.8624,"gi":-0.4587},{"k":"n4","gr":0.8356,"gi":-0.4384},{"k":"n4","gr":0.8,"gi":-0.4},{"k":"n4","gr":0.7753,"gi":-0.3596},{"k":"n4","gr":0.76,"gi":-0.32},{"k":"n4","gr":0.75,"gi":-0.25},{"k":"n4","gr":0.7561,"gi":-0.1951},{"k":"n4","gr":0.7846,"gi":-0.1231},{"k":"n4","gr":0.8394,"gi":-0.0584},{"k":"n4","gr":0.9081,"gi":-0.0175},{"k":"n4","gr":0.9517,"gi":-0.0047},{"k":"n4","gr":1,"gi":0}
    ]
  },
  "layer": [
    {
      "layer": [
        {
          "data": {"name": "grid"},
          "mark": {"type": "line", "stroke": "black", "strokeWidth": 2, "clip": true},
          "encoding": {
            "x": {"field": "r", "type": "quantitative", "scale": {"domain": [-1.01157, 0.2331], "nice": false, "zero": false}, "axis": null},
            "y": {"field": "i", "type": "quantitative", "scale": {"domain": [0.09698, 0.8105], "nice": false, "zero": false}, "axis": null},
            "detail": {"field": "k", "type": "nominal"},
            "order": {"value": null}
          }
        },
        {
          "data": {"values": [{}]},
          "mark": {"type": "rect", "fill": "black", "clip": true},
          "encoding": {
            "x": {"datum": -1.02, "type": "quantitative", "scale": {"domain": [-1.01157, 0.2331], "nice": false, "zero": false}, "axis": null},
            "x2": {"datum": 0.2233},
            "y": {"datum": 0.8105, "type": "quantitative", "scale": {"domain": [0.09698, 0.8105], "nice": false, "zero": false}, "axis": null},
            "y2": {"datum": 0.8016}
          }
        },
        {
          "data": {"values": [{}]},
          "mark": {"type": "rect", "fill": "#cccc22", "stroke": "#1a1a9a", "strokeWidth": 1.5},
          "encoding": {
            "x": {"datum": -1.0098, "type": "quantitative", "scale": {"domain": [-1.01157, 0.2331], "nice": false, "zero": false}, "axis": null},
            "x2": {"datum": -1.0044},
            "y": {"datum": 0.2829, "type": "quantitative", "scale": {"domain": [0.09698, 0.8105], "nice": false, "zero": false}, "axis": null},
            "y2": {"datum": 0.2162}
          }
        },
        {
          "data": {"name": "stability"},
          "mark": {"type": "line", "strokeWidth": 5.5, "clip": true},
          "encoding": {
            "x": {"field": "r", "type": "quantitative", "scale": {"domain": [-1.01157, 0.2331], "nice": false, "zero": false}, "axis": null},
            "y": {"field": "i", "type": "quantitative", "scale": {"domain": [0.09698, 0.8105], "nice": false, "zero": false}, "axis": null},
            "order": {"value": null},
            "color": {
              "datum": "Stability Circle",
              "type": "nominal",
              "scale": {"domain": ["Stability Circle", "Pout = 3500 mW", "Pdisip = 1400 mW", "PAE"], "range": ["#000000", "#0000ff", "#00ff00", "#ff0000"]},
              "legend": {
                "orient": "none", "legendX": 1074, "legendY": 600, "title": null,
                "padding": 15, "strokeColor": "black", "fillColor": "white",
                "symbolType": "M-3.5,0H3.5", "symbolSize": 400, "symbolStrokeWidth": 5,
                "symbolOffset": 23, "labelOffset": 36,
                "labelFont": "Liberation Sans", "labelFontSize": 23.5, "labelColor": "black", "labelLimit": 400,
                "rowPadding": 19,
                "encode": {"legend": {"update": {"strokeWidth": {"value": 2}}}}
              }
            }
          }
        },
        {
          "data": {"name": "pout"},
          "mark": {"type": "line", "strokeWidth": 5.5, "clip": true},
          "encoding": {
            "x": {"field": "r", "type": "quantitative", "scale": {"domain": [-1.01157, 0.2331], "nice": false, "zero": false}, "axis": null},
            "y": {"field": "i", "type": "quantitative", "scale": {"domain": [0.09698, 0.8105], "nice": false, "zero": false}, "axis": null},
            "order": {"value": null},
            "color": {"datum": "Pout = 3500 mW", "type": "nominal"}
          }
        },
        {
          "data": {"name": "pdisip"},
          "mark": {"type": "line", "strokeWidth": 5.5, "clip": true},
          "encoding": {
            "x": {"field": "r", "type": "quantitative", "scale": {"domain": [-1.01157, 0.2331], "nice": false, "zero": false}, "axis": null},
            "y": {"field": "i", "type": "quantitative", "scale": {"domain": [0.09698, 0.8105], "nice": false, "zero": false}, "axis": null},
            "order": {"value": null},
            "color": {"datum": "Pdisip = 1400 mW", "type": "nominal"}
          }
        },
        {
          "data": {"name": "pae"},
          "mark": {"type": "line", "strokeWidth": 5.5, "clip": true},
          "encoding": {
            "x": {"field": "r", "type": "quantitative", "scale": {"domain": [-1.01157, 0.2331], "nice": false, "zero": false}, "axis": null},
            "y": {"field": "i", "type": "quantitative", "scale": {"domain": [0.09698, 0.8105], "nice": false, "zero": false}, "axis": null},
            "detail": {"field": "c", "type": "nominal"},
            "order": {"value": null},
            "color": {"datum": "PAE", "type": "nominal"}
          }
        },
        {
          "data": {"name": "markers"},
          "transform": [{"filter": "datum.m == 'circle'"}],
          "mark": {"type": "point", "shape": "circle", "filled": false, "stroke": "black", "strokeWidth": 3.5, "size": 700, "opacity": 1},
          "encoding": {
            "x": {"field": "r", "type": "quantitative", "scale": {"domain": [-1.01157, 0.2331], "nice": false, "zero": false}, "axis": null},
            "y": {"field": "i", "type": "quantitative", "scale": {"domain": [0.09698, 0.8105], "nice": false, "zero": false}, "axis": null}
          }
        },
        {
          "data": {"name": "markers"},
          "transform": [{"filter": "datum.m == 'square'"}],
          "mark": {"type": "point", "shape": "square", "filled": false, "stroke": "black", "strokeWidth": 4.5, "size": 784, "opacity": 1},
          "encoding": {
            "x": {"field": "r", "type": "quantitative", "scale": {"domain": [-1.01157, 0.2331], "nice": false, "zero": false}, "axis": null},
            "y": {"field": "i", "type": "quantitative", "scale": {"domain": [0.09698, 0.8105], "nice": false, "zero": false}, "axis": null}
          }
        },
        {
          "data": {"name": "markers"},
          "transform": [{"filter": "datum.m == 'square'"}],
          "mark": {"type": "text", "font": "Liberation Sans", "fontWeight": "bold", "fontSize": 38, "align": "right", "baseline": "alphabetic", "dx": -29, "dy": 19, "color": "black"},
          "encoding": {
            "x": {"field": "r", "type": "quantitative", "scale": {"domain": [-1.01157, 0.2331], "nice": false, "zero": false}, "axis": null},
            "y": {"field": "i", "type": "quantitative", "scale": {"domain": [0.09698, 0.8105], "nice": false, "zero": false}, "axis": null},
            "text": {"field": "label", "type": "nominal"}
          }
        }
      ]
    },
    {
      "layer": [
        {
          "data": {"name": "insetCircles"},
          "transform": [{"filter": "datum.rad == 1"}],
          "mark": {"type": "point", "shape": "circle", "filled": true, "fill": "white", "stroke": "black", "strokeWidth": 1.3, "opacity": 1},
          "encoding": {
            "x": {"field": "cr", "type": "quantitative", "scale": {"domain": [-8.4371, 1.3462], "nice": false, "zero": false}, "axis": null},
            "y": {"datum": 0, "type": "quantitative", "scale": {"domain": [-2.7552, 2.8531], "nice": false, "zero": false}, "axis": null},
            "size": {"field": "rad", "type": "quantitative", "scale": {"type": "pow", "exponent": 2, "domain": [0, 1], "range": [0, 81796]}, "legend": null}
          }
        },
        {
          "data": {"name": "region"},
          "mark": {"type": "rect", "fill": "#8b8bd9", "stroke": "#3333b3", "strokeWidth": 1},
          "encoding": {
            "x": {"field": "r0", "type": "quantitative", "scale": {"domain": [-8.4371, 1.3462], "nice": false, "zero": false}, "axis": null},
            "x2": {"field": "r1"},
            "y": {"field": "i0", "type": "quantitative", "scale": {"domain": [-2.7552, 2.8531], "nice": false, "zero": false}, "axis": null},
            "y2": {"field": "i1"}
          }
        },
        {
          "data": {"name": "regionCols"},
          "mark": {"type": "rule", "stroke": "#2020a8", "strokeWidth": 1},
          "encoding": {
            "x": {"field": "v", "type": "quantitative", "scale": {"domain": [-8.4371, 1.3462], "nice": false, "zero": false}, "axis": null},
            "y": {"datum": 0, "type": "quantitative", "scale": {"domain": [-2.7552, 2.8531], "nice": false, "zero": false}, "axis": null},
            "y2": {"datum": 0.6}
          }
        },
        {
          "data": {"name": "regionRows"},
          "mark": {"type": "rule", "stroke": "#2020a8", "strokeWidth": 1},
          "encoding": {
            "x": {"datum": -0.8, "type": "quantitative", "scale": {"domain": [-8.4371, 1.3462], "nice": false, "zero": false}, "axis": null},
            "x2": {"datum": -0.2},
            "y": {"field": "h", "type": "quantitative", "scale": {"domain": [-2.7552, 2.8531], "nice": false, "zero": false}, "axis": null}
          }
        },
        {
          "data": {"name": "insetArcs"},
          "mark": {"type": "line", "stroke": "black", "strokeWidth": 1.1},
          "encoding": {
            "x": {"field": "gr", "type": "quantitative", "scale": {"domain": [-8.4371, 1.3462], "nice": false, "zero": false}, "axis": null},
            "y": {"field": "gi", "type": "quantitative", "scale": {"domain": [-2.7552, 2.8531], "nice": false, "zero": false}, "axis": null},
            "detail": {"field": "k", "type": "nominal"},
            "order": {"value": null}
          }
        },
        {
          "data": {"name": "insetCircles"},
          "transform": [{"filter": "datum.rad < 1"}],
          "mark": {"type": "point", "shape": "circle", "filled": false, "stroke": "black", "strokeWidth": 1.1, "opacity": 1},
          "encoding": {
            "x": {"field": "cr", "type": "quantitative", "scale": {"domain": [-8.4371, 1.3462], "nice": false, "zero": false}, "axis": null},
            "y": {"datum": 0, "type": "quantitative", "scale": {"domain": [-2.7552, 2.8531], "nice": false, "zero": false}, "axis": null},
            "size": {"field": "rad", "type": "quantitative", "scale": {"type": "pow", "exponent": 2, "domain": [0, 1], "range": [0, 81796]}, "legend": null}
          }
        }
      ]
    }
  ],
  "resolve": {"scale": {"x": "independent", "y": "independent"}}
}
